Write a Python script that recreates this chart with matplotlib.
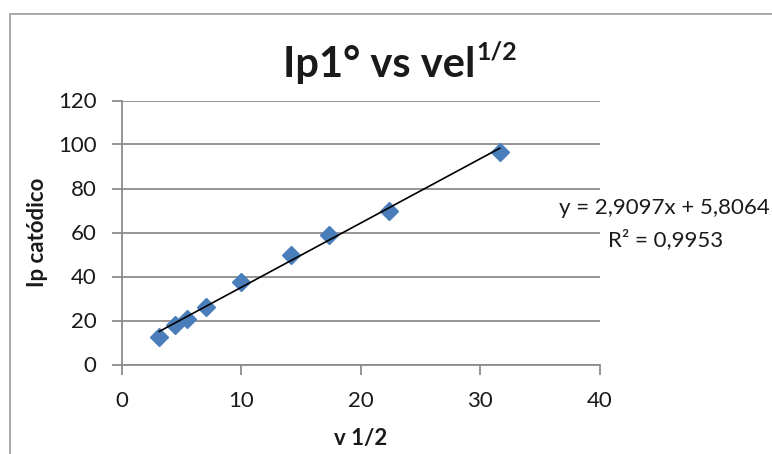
import numpy as np
import matplotlib
matplotlib.use("Agg")
import matplotlib.pyplot as plt
from matplotlib.patches import Rectangle

# Data
x_vals = [3.162, 4.472, 5.477, 7.071, 10.0, 14.142, 17.321, 22.361, 31.623]
y_vals = [12.6, 17.9, 20.8, 26.3, 37.6, 49.8, 59.0, 70.0, 96.4]
x_ticks = [0, 10, 20, 30, 40]
y_ticks = [0, 20, 40, 60, 80, 100, 120]
title_main = "Ip1° vs vel"
title_sup = "1/2"
x_label = "v 1/2"
y_label = "Ip catódico"
eq_text = "y = 2,9097x + 5,8064"
r2_text = "R² = 0,9953"

plt.rcParams['font.family'] = ['Lato', 'DejaVu Sans']

W, H = 772, 454
fig = plt.figure(figsize=(W / 100, H / 100), dpi=100)
fig.patch.set_facecolor('white')

# outer chart border (extends beyond right/bottom)
fig.patches.append(Rectangle((9.5 / W, -0.05), 1.2, 1 - 13.5 / H + 0.05,
                             transform=fig.transFigure, fill=False,
                             edgecolor='#9a9a9a', linewidth=1.2))

ax = fig.add_axes([121.5 / W, 1 - 364.5 / H, (600 - 121.5) / W, (364.5 - 100.5) / H])
ax.set_xlim(0, 40)
ax.set_ylim(0, 120)
ax.set_xticks(x_ticks)
ax.set_yticks(y_ticks)

grid_c = '#8c8c8c'
ax.yaxis.grid(True, color=grid_c, linewidth=1.3)
ax.set_axisbelow(True)
for s in ['top', 'right']:
    ax.spines[s].set_visible(False)
for s in ['left', 'bottom']:
    ax.spines[s].set_color(grid_c)
    ax.spines[s].set_linewidth(1.3)
ax.tick_params(axis='both', direction='out', length=7, width=1.3, color=grid_c,
               labelsize=16, labelcolor='#1a1a1a')
ax.tick_params(axis='y', pad=11)
ax.tick_params(axis='x', pad=12)

ax.plot(x_vals, y_vals, linestyle='none', marker='D', markersize=9.5,
        color='#4a7ebb', markeredgecolor='#4a7ebb', zorder=3, clip_on=False)

# linear trendline
coef = np.polyfit(x_vals, y_vals, 1)
xs = np.array([min(x_vals), max(x_vals)])
ax.plot(xs, np.polyval(coef, xs), color='black', linewidth=1.2, zorder=4)

# title: main text + smaller superscript, centred as a whole at x=400
renderer = fig.canvas.get_renderer()
t_main = fig.text(0, 1 - 77 / H, title_main, ha='left', va='baseline',
                  fontsize=30, fontweight='bold', color='#1a1a1a')
t_sup = fig.text(0, 1 - 60 / H, title_sup, ha='left', va='baseline',
                 fontsize=18, fontweight='bold', color='#1a1a1a')
w_main = t_main.get_window_extent(renderer).width
w_sup = t_sup.get_window_extent(renderer).width
total = w_main + 1 + w_sup
x0 = 400 - total / 2
t_main.set_x(x0 / W)
t_sup.set_x((x0 + w_main + 1) / W)

fig.text(361 / W, 1 - 438 / H, x_label, ha='center', va='center',
         fontsize=16, fontweight='bold', color='#1a1a1a')
fig.text(37 / W, 1 - 232.5 / H, y_label, ha='center', va='center', rotation=90,
         fontsize=16, fontweight='bold', color='#1a1a1a')
fig.text(770 / W, 1 - 208 / H, eq_text, ha='right', va='center',
         fontsize=16, color='#1a1a1a')
fig.text(666 / W, 1 - 240 / H, r2_text, ha='center', va='center',
         fontsize=16, color='#1a1a1a')

fig.savefig('out.png', dpi=100, facecolor='white')
